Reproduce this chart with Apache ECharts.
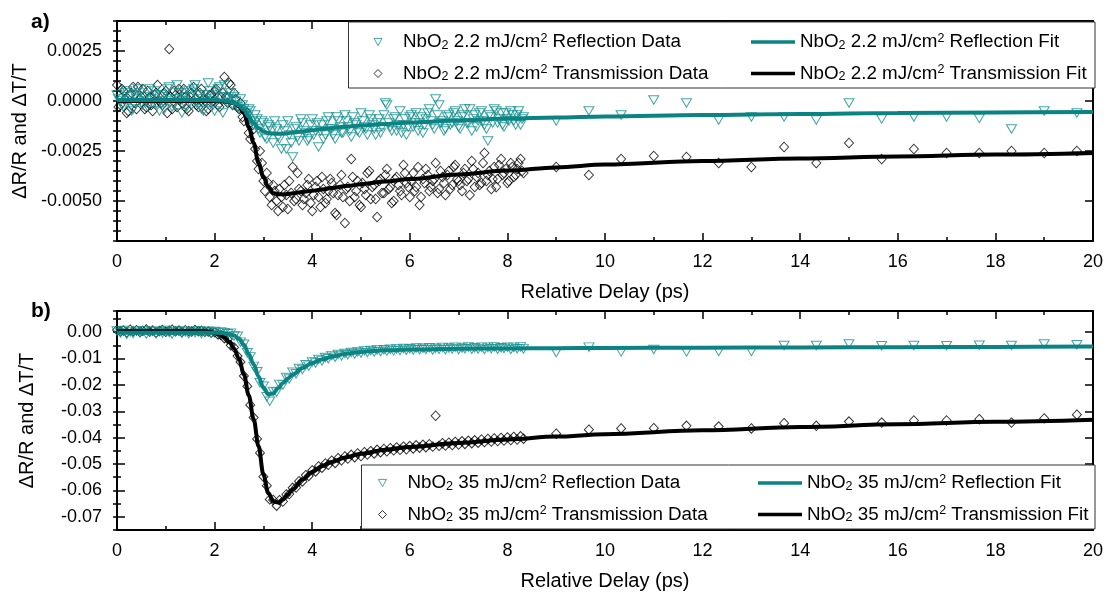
<!DOCTYPE html>
<html>
<head>
<meta charset="utf-8">
<script src="https://cdn.jsdelivr.net/npm/echarts@6/dist/echarts.min.js"></script>
<style>
  html, body { margin: 0; padding: 0; background: #fff; }
  #chart { width: 1106px; height: 593px; }
</style>
</head>
<body>
<div id="chart"></div>
<script>
// Pump-probe delay (ps): dense scan up to 8.33 ps, then coarse steps
const delayDense = [
  0, 0.07, 0.13, 0.2, 0.27, 0.33, 0.4, 0.47, 0.53, 0.6,
  0.67, 0.73, 0.8, 0.87, 0.93, 1, 1.07, 1.13, 1.2, 1.27,
  1.33, 1.4, 1.47, 1.53, 1.6, 1.67, 1.73, 1.8, 1.87, 1.93,
  2, 2.07, 2.13, 2.2, 2.27, 2.33, 2.4, 2.47, 2.53, 2.6,
  2.67, 2.73, 2.8, 2.87, 2.93, 3, 3.07, 3.13, 3.2, 3.27,
  3.33, 3.4, 3.47, 3.53, 3.6, 3.67, 3.73, 3.8, 3.87, 3.93,
  4, 4.07, 4.13, 4.2, 4.27, 4.33, 4.4, 4.47, 4.53, 4.6,
  4.67, 4.73, 4.8, 4.87, 4.93, 5, 5.07, 5.13, 5.2, 5.27,
  5.33, 5.4, 5.47, 5.53, 5.6, 5.67, 5.73, 5.8, 5.87, 5.93,
  6, 6.07, 6.13, 6.2, 6.27, 6.33, 6.4, 6.47, 6.53, 6.6,
  6.67, 6.73, 6.8, 6.87, 6.93, 7, 7.07, 7.13, 7.2, 7.27,
  7.33, 7.4, 7.47, 7.53, 7.6, 7.67, 7.73, 7.8, 7.87, 7.93,
  8, 8.07, 8.13, 8.2, 8.27, 8.33
];
// Interleaved scan points of the low-fluence run
const delayMid = [
  0.03, 0.1, 0.17, 0.23, 0.3, 0.37, 0.43, 0.5, 0.57, 0.63,
  0.7, 0.77, 0.83, 0.9, 0.97, 1.03, 1.1, 1.17, 1.23, 1.3,
  1.37, 1.43, 1.5, 1.57, 1.63, 1.7, 1.77, 1.83, 1.9, 1.97,
  2.03, 2.1, 2.17, 2.23, 2.3, 2.37, 2.43, 2.5, 2.57, 2.63,
  2.7, 2.77, 2.83, 2.9, 2.97, 3.03, 3.1, 3.17, 3.23, 3.3,
  3.37, 3.43, 3.5, 3.57, 3.63, 3.7, 3.77, 3.83, 3.9, 3.97,
  4.03, 4.1, 4.17, 4.23, 4.3, 4.37, 4.43, 4.5, 4.57, 4.63,
  4.7, 4.77, 4.83, 4.9, 4.97, 5.03, 5.1, 5.17, 5.23, 5.3,
  5.37, 5.43, 5.5, 5.57, 5.63, 5.7, 5.77, 5.83, 5.9, 5.97,
  6.03, 6.1, 6.17, 6.23, 6.3, 6.37, 6.43, 6.5, 6.57, 6.63,
  6.7, 6.77, 6.83, 6.9, 6.97, 7.03, 7.1, 7.17, 7.23, 7.3,
  7.37, 7.43, 7.5, 7.57, 7.63, 7.7, 7.77, 7.83, 7.9, 7.97,
  8.03, 8.1, 8.17, 8.23, 8.3
];
const delaySparse = [9, 9.67, 10.33, 11, 11.67, 12.33, 13, 13.67, 14.33, 15, 15.67, 16.33, 17, 17.67, 18.33, 19, 19.67];

// 2.2 mJ/cm2 reflection (dR/R)
const refl22Dense = [
  0.0003, 0.0000, -0.0003, 0.0005, 0.0002, -0.0004, 0.0001, 0.0004, -0.0002, 0.0000,
  0.0006, -0.0001, 0.0003, -0.0005, 0.0002, 0.0000, 0.0007, -0.0003, 0.0001, 0.0004,
  -0.0006, 0.0002, 0.0005, -0.0002, 0.0008, 0.0001, -0.0004, 0.0003, 0.0009, 0.0000,
  -0.0005, 0.0006, 0.0002, 0.0008, -0.0001, 0.0004, 0.0002, -0.0003, 0.0001, -0.0004,
  -0.0008, -0.0005, -0.0012, -0.0009, -0.0016, -0.0011, -0.0019, -0.0013, -0.0021, -0.0014,
  -0.0019, -0.0012, -0.0024, -0.0017, -0.0028, -0.0013, -0.0020, -0.0011, -0.0016, -0.0019,
  -0.0009, -0.0015, -0.0023, -0.0012, -0.0017, -0.0008, -0.0014, -0.0019, -0.0010, -0.0016,
  -0.0007, -0.0013, -0.0018, -0.0011, -0.0015, -0.0006, -0.0013, -0.0017, -0.0009, -0.0014,
  -0.0011, -0.0016, -0.0007, -0.0002, -0.0013, -0.0009, -0.0015, -0.0005, -0.0012, -0.0017,
  -0.0008, -0.0013, -0.0006, -0.0011, -0.0016, -0.0009, -0.0004, -0.0012, 0.0001, -0.0002,
  -0.0010, -0.0014, -0.0007, -0.0011, -0.0005, -0.0013, -0.0008, -0.0004, -0.0011, -0.0015,
  -0.0007, -0.0010, -0.0005, -0.0012, -0.0020, -0.0008, -0.0004, -0.0011, -0.0006, -0.0013,
  -0.0009, -0.0005, -0.0010, -0.0007, -0.0012, -0.0008
];
const refl22Mid = [
  0.0001, -0.0002, 0.0004, 0.0000, -0.0005, 0.0003, 0.0006, -0.0001, 0.0002, -0.0003,
  0.0001, 0.0005, -0.0002, 0.0003, -0.0004, 0.0006, 0.0001, -0.0002, 0.0008, 0.0000,
  0.0004, -0.0003, 0.0002, 0.0006, -0.0001, 0.0003, -0.0005, 0.0001, 0.0005, -0.0002,
  0.0003, 0.0007, -0.0006, 0.0002, 0.0001, -0.0002, 0.0000, -0.0004, -0.0002, -0.0006,
  -0.0004, -0.0010, -0.0007, -0.0014, -0.0010, -0.0018, -0.0012, -0.0015, -0.0010, -0.0018,
  -0.0024, -0.0015, -0.0010, -0.0021, -0.0014, -0.0018, -0.0009, -0.0015, -0.0020, -0.0012,
  -0.0017, -0.0011, -0.0015, -0.0019, -0.0010, -0.0014, -0.0017, -0.0008, -0.0013, -0.0016,
  -0.0010, -0.0015, -0.0008, -0.0012, -0.0016, -0.0010, -0.0014, -0.0007, -0.0012, -0.0017,
  -0.0009, -0.0013, -0.0001, -0.0011, -0.0015, -0.0008, -0.0012, -0.0016, -0.0009, -0.0013,
  -0.0007, -0.0011, -0.0015, -0.0008, -0.0012, -0.0006, -0.0010, -0.0014, -0.0007, -0.0011,
  -0.0015, -0.0008, -0.0012, -0.0006, -0.0010, -0.0014, -0.0007, -0.0011, -0.0004, -0.0009,
  -0.0013, -0.0006, -0.0010, -0.0014, -0.0007, -0.0011, -0.0005, -0.0009, -0.0012, -0.0006,
  -0.0010, -0.0007, -0.0012, -0.0005, -0.0009
];
const refl22Sparse = [-0.0010, -0.0005, -0.0007, 0.00005, -0.0001, -0.00095, -0.0008, -0.0008, -0.00095, -0.0001, -0.0009, -0.0008, -0.0008, -0.00087, -0.0014, -0.0005, -0.0006];

// 2.2 mJ/cm2 transmission (dT/T)
const trans22Dense = [
  0.0008, -0.0002, 0.0005, -0.0006, 0.0003, 0.0007, -0.0004, 0.0001, 0.0006, -0.0003,
  0.0002, -0.0005, 0.0004, 0.0000, -0.0002, 0.0005, 0.0026, -0.0004, 0.0003, 0.0006,
  -0.0001, 0.0002, -0.0005, 0.0004, 0.0001, -0.0003, 0.0006, 0.0000, -0.0004, 0.0003,
  0.0005, -0.0002, 0.0002, 0.0012, -0.0001, 0.0008, 0.0004, -0.0003, -0.0001, -0.0010,
  -0.0006, -0.0019, -0.0014, -0.0030, -0.0025, -0.0040, -0.0036, -0.0048, -0.0042, -0.0050,
  -0.0044, -0.0053, -0.0047, -0.0040, -0.0033, -0.0049, -0.0044, -0.0052, -0.0046, -0.0039,
  -0.0055, -0.0043, -0.0048, -0.0038, -0.0051, -0.0045, -0.0041, -0.0056, -0.0047, -0.0037,
  -0.0061, -0.0043, -0.0029, -0.0048, -0.0040, -0.0053, -0.0044, -0.0036, -0.0049, -0.0042,
  -0.0058, -0.0039, -0.0046, -0.0034, -0.0043, -0.0050, -0.0038, -0.0045, -0.0032, -0.0041,
  -0.0048, -0.0036, -0.0043, -0.0052, -0.0039, -0.0034, -0.0045, -0.0040, -0.0031, -0.0044,
  -0.0038, -0.0047, -0.0035, -0.0042, -0.0032, -0.0040, -0.0045, -0.0034, -0.0039, -0.0030,
  -0.0043, -0.0036, -0.0041, -0.0026, -0.0037, -0.0044, -0.0033, -0.0039, -0.0029, -0.0036,
  -0.0041, -0.0031, -0.0038, -0.0034, -0.0029, -0.0036
];
const trans22Mid = [
  -0.0003, 0.0006, 0.0001, -0.0005, 0.0004, -0.0001, 0.0007, 0.0002, -0.0004, 0.0005,
  -0.0002, 0.0003, 0.0008, -0.0001, 0.0004, -0.0006, 0.0002, 0.0005, -0.0003, 0.0001,
  0.0006, -0.0004, 0.0002, 0.0007, -0.0002, 0.0004, 0.0001, -0.0005, 0.0003, 0.0000,
  0.0006, -0.0003, 0.0004, 0.0002, 0.0009, -0.0002, 0.0001, -0.0004, -0.0008, -0.0005,
  -0.0016, -0.0012, -0.0024, -0.0034, -0.0031, -0.0045, -0.0041, -0.0052, -0.0045, -0.0055,
  -0.0048, -0.0042, -0.0054, -0.0046, -0.0050, -0.0036, -0.0045, -0.0049, -0.0042, -0.0051,
  -0.0047, -0.0040, -0.0053, -0.0044, -0.0049, -0.0039, -0.0046, -0.0057, -0.0042, -0.0048,
  -0.0044, -0.0050, -0.0038, -0.0045, -0.0052, -0.0041, -0.0047, -0.0035, -0.0043, -0.0049,
  -0.0040, -0.0046, -0.0037, -0.0044, -0.0051, -0.0039, -0.0042, -0.0047, -0.0036, -0.0043,
  -0.0040, -0.0045, -0.0033, -0.0048, -0.0041, -0.0037, -0.0043, -0.0039, -0.0046, -0.0035,
  -0.0041, -0.0037, -0.0044, -0.0033, -0.0039, -0.0042, -0.0036, -0.0040, -0.0047, -0.0034,
  -0.0038, -0.0042, -0.0031, -0.0040, -0.0035, -0.0039, -0.0043, -0.0032, -0.0037, -0.0034,
  -0.0040, -0.0033, -0.0037, -0.0031, -0.0035
];
const trans22Sparse = [-0.0033, -0.0037, -0.0029, -0.00275, -0.0028, -0.0031, -0.0033, -0.0023, -0.0031, -0.0021, -0.0029, -0.0024, -0.0026, -0.0026, -0.0025, -0.0026, -0.0025];

// 35 mJ/cm2 reflection (dR/R)
const refl35Dense = [
  0.0004, -0.0003, 0.0006, -0.0008, 0.0001, -0.0005, 0.0003, -0.0002, 0.0005, -0.0007,
  0.0000, 0.0003, -0.0006, 0.0002, -0.0003, 0.0006, -0.0001, -0.0007, 0.0002, 0.0004,
  -0.0004, 0.0001, -0.0006, 0.0003, -0.0002, 0.0005, -0.0005, 0.0000, 0.0003, -0.0004,
  0.0002, -0.0003, 0.0001, -0.0002, -0.0006, -0.0004, -0.0015, -0.0016, -0.0038, -0.0046,
  -0.0078, -0.0094, -0.0130, -0.0150, -0.0192, -0.0205, -0.0245, -0.0262, -0.0225, -0.0228,
  -0.0198, -0.0200, -0.0172, -0.0178, -0.0152, -0.0158, -0.0138, -0.0142, -0.0124, -0.0129,
  -0.0113, -0.0117, -0.0104, -0.0109, -0.0096, -0.0101, -0.0089, -0.0095, -0.0085, -0.0090,
  -0.0081, -0.0086, -0.0077, -0.0083, -0.0075, -0.0079, -0.0071, -0.0077, -0.0070, -0.0075,
  -0.0068, -0.0074, -0.0067, -0.0072, -0.0065, -0.0071, -0.0064, -0.0070, -0.0062, -0.0069,
  -0.0063, -0.0068, -0.0060, -0.0067, -0.0061, -0.0066, -0.0059, -0.0068, -0.0061, -0.0065,
  -0.0058, -0.0067, -0.0060, -0.0064, -0.0057, -0.0066, -0.0060, -0.0063, -0.0056, -0.0065,
  -0.0059, -0.0064, -0.0057, -0.0066, -0.0058, -0.0063, -0.0056, -0.0065, -0.0059, -0.0062,
  -0.0057, -0.0066, -0.0058, -0.0063, -0.0056, -0.0064
];
const refl35Sparse = [-0.0077, -0.0057, -0.0075, -0.0066, -0.0075, -0.0073, -0.0073, -0.0051, -0.0051, -0.0045, -0.0052, -0.0051, -0.0052, -0.0050, -0.0051, -0.0045, -0.0048];

// 35 mJ/cm2 transmission (dT/T)
const trans35Dense = [
  0.0008, 0.0002, 0.0006, -0.0001, 0.0009, 0.0003, 0.0007, 0.0000, 0.0005, 0.0010,
  0.0002, 0.0006, -0.0002, 0.0004, 0.0008, 0.0001, 0.0005, 0.0009, 0.0003, 0.0006,
  0.0000, 0.0007, 0.0004, 0.0002, 0.0008, 0.0003, 0.0005, 0.0001, 0.0002, -0.0002,
  -0.0001, -0.0009, -0.0011, -0.0023, -0.0027, -0.0050, -0.0058, -0.0091, -0.0113, -0.0166,
  -0.0205, -0.0276, -0.0324, -0.0405, -0.0458, -0.0548, -0.0582, -0.0634, -0.0636, -0.0658,
  -0.0637, -0.0642, -0.0615, -0.0614, -0.0590, -0.0589, -0.0565, -0.0566, -0.0542, -0.0545,
  -0.0524, -0.0528, -0.0509, -0.0514, -0.0498, -0.0503, -0.0487, -0.0496, -0.0478, -0.0486,
  -0.0471, -0.0479, -0.0465, -0.0474, -0.0460, -0.0470, -0.0455, -0.0464, -0.0451, -0.0460,
  -0.0446, -0.0455, -0.0443, -0.0452, -0.0440, -0.0448, -0.0437, -0.0446, -0.0434, -0.0444,
  -0.0432, -0.0441, -0.0429, -0.0438, -0.0427, -0.0436, -0.0425, -0.0434, -0.0317, -0.0431,
  -0.0421, -0.0430, -0.0419, -0.0428, -0.0416, -0.0426, -0.0414, -0.0424, -0.0412, -0.0421,
  -0.0410, -0.0419, -0.0407, -0.0417, -0.0405, -0.0415, -0.0403, -0.0413, -0.0401, -0.0411,
  -0.0399, -0.0409, -0.0397, -0.0407, -0.0395, -0.0404
];
const trans35Sparse = [-0.0385, -0.0370, -0.0365, -0.0364, -0.0355, -0.0358, -0.0365, -0.0345, -0.0355, -0.0339, -0.0343, -0.0335, -0.0335, -0.0330, -0.0343, -0.0327, -0.0313];

// Model fits, sampled on their own delay grid
const fitDelay = [0, 0.5, 1, 1.5, 1.8, 1.9, 2.0, 2.1, 2.2, 2.3, 2.4, 2.5, 2.6, 2.7, 2.8, 2.9, 3.0, 3.1, 3.2, 3.3, 3.4, 3.5, 3.6, 3.8, 4.0, 4.2, 4.4, 4.7, 5.0, 5.5, 6, 7, 8, 9, 10, 12, 14, 16, 18, 20];
const refl22Fit = [0.00005, 0.00005, 0.00005, 0.00005, 0.00005, 0.00005, 0.00004, 0.00003, 0.00001, -0.00003, -0.0001, -0.00022, -0.00045, -0.00078, -0.0011, -0.00135, -0.00152, -0.0016, -0.00163, -0.00164, -0.00163, -0.00161, -0.00158, -0.00152, -0.00146, -0.0014, -0.00135, -0.00128, -0.00122, -0.00115, -0.00108, -0.00097, -0.00088, -0.00082, -0.00077, -0.0007, -0.00065, -0.0006, -0.00057, -0.00055];
const trans22Fit = [0, 0, 0, 0, 0, 0, 0, -0.00001, -0.00002, -0.00005, -0.0001, -0.00028, -0.0006, -0.0013, -0.0021, -0.0031, -0.0038, -0.0043, -0.0046, -0.00466, -0.00467, -0.00465, -0.00461, -0.00455, -0.00449, -0.00442, -0.00435, -0.00425, -0.00416, -0.00402, -0.0039, -0.00367, -0.00348, -0.00332, -0.00318, -0.003, -0.00287, -0.00277, -0.00268, -0.0026];
const refl35Fit = [-0.0002, -0.0002, -0.0002, -0.0002, -0.0002, -0.0002, -0.0002, -0.0003, -0.0004, -0.0007, -0.0013, -0.0025, -0.0048, -0.0083, -0.0122, -0.0168, -0.021, -0.0236, -0.0232, -0.0213, -0.0193, -0.0176, -0.0161, -0.0136, -0.0117, -0.0104, -0.0093, -0.0082, -0.0075, -0.0069, -0.0066, -0.0063, -0.0062, -0.0061, -0.006, -0.0059, -0.0058, -0.0057, -0.0056, -0.0055];
const trans35Fit = [0.0003, 0.0003, 0.0003, 0.0003, 0.0003, 0.0001, -0.0003, -0.001, -0.002, -0.0037, -0.0062, -0.0102, -0.016, -0.024, -0.033, -0.0432, -0.054, -0.061, -0.0641, -0.0646, -0.0634, -0.0615, -0.0596, -0.0559, -0.053, -0.0508, -0.0492, -0.0474, -0.0461, -0.0446, -0.0435, -0.042, -0.0407, -0.0396, -0.0387, -0.0372, -0.036, -0.0349, -0.034, -0.0332];

// Axis tick labels
const xTicks = [0, 2, 4, 6, 8, 10, 12, 14, 16, 18, 20];
const yTicksA = [-0.005, -0.0025, 0, 0.0025];
const yTicksB = [-0.07, -0.06, -0.05, -0.04, -0.03, -0.02, -0.01, 0];

const NAMES = {
  r22d: 'NbO2 2.2 mJ/cm2 Reflection Data',
  t22d: 'NbO2 2.2 mJ/cm2 Transmission Data',
  r22f: 'NbO2 2.2 mJ/cm2 Reflection Fit',
  t22f: 'NbO2 2.2 mJ/cm2 Transmission Fit',
  r35d: 'NbO2 35 mJ/cm2 Reflection Data',
  t35d: 'NbO2 35 mJ/cm2 Transmission Data',
  r35f: 'NbO2 35 mJ/cm2 Reflection Fit',
  t35f: 'NbO2 35 mJ/cm2 Transmission Fit'
};

const FONT = '"Liberation Sans", Arial, Helvetica, sans-serif';
const TEAL_LINE = '#0b8383';
const TEAL_MARK = '#178f8f';
const BLACK = '#000000';
const TRI_DOWN = 'path://M0,0L10,0L5,9Z';
const DIAMOND = 'path://M5,0L10,5L5,10L0,5Z';

function pairs(xs, ys) {
  return xs.map((x, i) => [x, ys[i]]);
}

function scatter(name, xi, yi, parts, kind) {
  const teal = kind === 'tri';
  let data = [];
  parts.forEach(p => { data = data.concat(pairs(p[0], p[1])); });
  return {
    type: 'scatter', name, xAxisIndex: xi, yAxisIndex: yi,
    data,
    symbol: teal ? 'triangle' : 'diamond',
    symbolRotate: teal ? 180 : 0,
    symbolSize: teal ? [10, 8.5] : [9, 9.5],
    itemStyle: { color: 'rgba(0,0,0,0)', borderColor: teal ? TEAL_MARK : BLACK, borderWidth: 1 },
    emphasis: { disabled: true },
    z: teal ? 3 : 2
  };
}

function fit(name, xi, yi, vals, teal) {
  return {
    type: 'line', name, xAxisIndex: xi, yAxisIndex: yi,
    data: pairs(fitDelay, vals),
    symbol: 'none', smooth: 0.35, smoothMonotone: 'x',
    lineStyle: { color: teal ? TEAL_LINE : BLACK, width: 4 },
    itemStyle: { color: teal ? TEAL_LINE : BLACK },
    emphasis: { disabled: true },
    z: teal ? 5 : 4
  };
}

const rich = {
  g: { width: 16, fontSize: 18.8, lineHeight: 20 },
  n: { fontSize: 18.8, lineHeight: 20, fontFamily: FONT, color: '#000' },
  sub: { fontSize: 12.5, lineHeight: 5, verticalAlign: 'bottom', fontFamily: FONT, color: '#000' },
  sup: { fontSize: 12.5, lineHeight: 10, verticalAlign: 'top', fontFamily: FONT, color: '#000' }
};
function legendText(name, gap) {
  const body = name.replace(/^NbO2 (\S+) mJ\/cm2 (.*)$/, '{n|NbO}{sub|2}{n| $1 mJ/cm}{sup|2}{n| $2}');
  return gap ? '{g| }' + body : body;
}

function dataLegend(left, top, items) {
  return {
    left, top, orient: 'vertical', padding: 0, itemGap: 11.5,
    itemWidth: 8, itemHeight: 8, selectedMode: false, z: 6,
    data: items,
    formatter: n => legendText(n, true),
    textStyle: { rich, color: '#000', fontFamily: FONT, fontSize: 18.8, lineHeight: 20 },
    itemStyle: { borderWidth: 1 }
  };
}
function fitLegend(left, top, items) {
  return {
    left, top, orient: 'vertical', padding: 0, itemGap: 11.5,
    itemWidth: 44, itemHeight: 3.5, selectedMode: false, z: 6,
    data: items,
    formatter: n => legendText(n, false),
    textStyle: { rich, color: '#000', fontFamily: FONT, fontSize: 18.8, lineHeight: 20 },
    itemStyle: { borderWidth: 0 }
  };
}

function xAxes(gi) {
  const base = {
    type: 'value', gridIndex: gi, min: 0, max: 20, interval: 2,
    axisLine: { onZero: false, lineStyle: { color: '#000', width: 2 } },
    axisTick: { inside: true, length: 8, lineStyle: { color: '#000', width: 1.5 } },
    minorTick: { show: true, splitNumber: 2, length: 4, lineStyle: { color: '#000', width: 1.5 } },
    splitLine: { show: false }
  };
  return [
    Object.assign({}, base, {
      position: 'bottom',
      axisLabel: { color: '#000', fontSize: 18, fontFamily: FONT, margin: 12,
        customValues: xTicks, formatter: v => String(v) },
      name: 'Relative Delay (ps)', nameLocation: 'middle', nameGap: 41,
      nameTextStyle: { color: '#000', fontSize: 20, fontFamily: FONT }
    }),
    Object.assign({}, base, { position: 'top', axisLabel: { show: false } })
  ];
}

function yAxes(gi, min, max, majors, minorInterval, digits) {
  const tickStyle = { color: '#000', width: 1.5 };
  const major = {
    type: 'value', gridIndex: gi, min, max,
    axisLine: { onZero: false, lineStyle: { color: '#000', width: 2 } },
    axisTick: { inside: true, length: 8, customValues: majors, lineStyle: tickStyle },
    splitLine: { show: false }
  };
  const minor = {
    type: 'value', gridIndex: gi, min, max, interval: minorInterval,
    axisLine: { show: false },
    axisTick: { inside: true, length: 4, lineStyle: tickStyle },
    axisLabel: { show: false },
    splitLine: { show: false }
  };
  return [
    Object.assign({}, major, {
      position: 'left',
      axisLabel: { color: '#000', fontSize: 18, fontFamily: FONT, margin: 15,
        customValues: majors, formatter: v => (Math.abs(v) < 1e-12 ? 0 : v).toFixed(digits) },
      name: 'ΔR/R and ΔT/T', nameLocation: 'middle', nameGap: 80,
      nameTextStyle: { color: '#000', fontSize: 20, fontFamily: FONT }
    }),
    Object.assign({}, minor, { position: 'left' }),
    Object.assign({}, major, { position: 'right', axisLabel: { show: false } }),
    Object.assign({}, minor, { position: 'right' })
  ];
}

const chart = echarts.init(document.getElementById('chart'), null, { renderer: 'canvas' });

chart.setOption({
  animation: false,
  backgroundColor: '#ffffff',
  textStyle: { fontFamily: FONT },
  grid: [
    { left: 117, right: 10, top: 21, height: 220 },
    { left: 117, right: 10, top: 311, height: 219 }
  ],
  xAxis: xAxes(0).concat(xAxes(1)),
  yAxis: yAxes(0, -0.007, 0.004, yTicksA, 0.0005, 4).concat(yAxes(1, -0.075, 0.008, yTicksB, 0.005, 2)),
  legend: [
    dataLegend(373.5, 32, [
      { name: NAMES.r22d, icon: TRI_DOWN },
      { name: NAMES.t22d, icon: DIAMOND }
    ]),
    fitLegend(751, 32, [
      { name: NAMES.r22f, icon: 'rect' },
      { name: NAMES.t22f, icon: 'rect' }
    ]),
    dataLegend(378, 473, [
      { name: NAMES.r35d, icon: TRI_DOWN },
      { name: NAMES.t35d, icon: DIAMOND }
    ]),
    fitLegend(758, 473, [
      { name: NAMES.r35f, icon: 'rect' },
      { name: NAMES.t35f, icon: 'rect' }
    ])
  ],
  graphic: [
    { type: 'rect', z: 4, shape: { x: 348.5, y: 22, width: 746.5, height: 66 },
      style: { fill: '#fff', stroke: '#333', lineWidth: 1 } },
    { type: 'rect', z: 4, shape: { x: 361.5, y: 465, width: 733.5, height: 64 },
      style: { fill: '#fff', stroke: '#333', lineWidth: 1 } },
    { type: 'text', left: 31, top: 12, z: 6,
      style: { text: 'a)', font: 'bold 21px ' + FONT, fill: '#000' } },
    { type: 'text', left: 31, top: 301, z: 6,
      style: { text: 'b)', font: 'bold 21px ' + FONT, fill: '#000' } }
  ],
  series: [
    scatter(NAMES.t22d, 0, 0, [[delayDense, trans22Dense], [delayMid, trans22Mid], [delaySparse, trans22Sparse]], 'dia'),
    scatter(NAMES.r22d, 0, 0, [[delayDense, refl22Dense], [delayMid, refl22Mid], [delaySparse, refl22Sparse]], 'tri'),
    fit(NAMES.t22f, 0, 0, trans22Fit, false),
    fit(NAMES.r22f, 0, 0, refl22Fit, true),
    scatter(NAMES.t35d, 2, 4, [[delayDense, trans35Dense], [delaySparse, trans35Sparse]], 'dia'),
    scatter(NAMES.r35d, 2, 4, [[delayDense, refl35Dense], [delaySparse, refl35Sparse]], 'tri'),
    fit(NAMES.t35f, 2, 4, trans35Fit, false),
    fit(NAMES.r35f, 2, 4, refl35Fit, true)
  ]
});
</script>
</body>
</html>
